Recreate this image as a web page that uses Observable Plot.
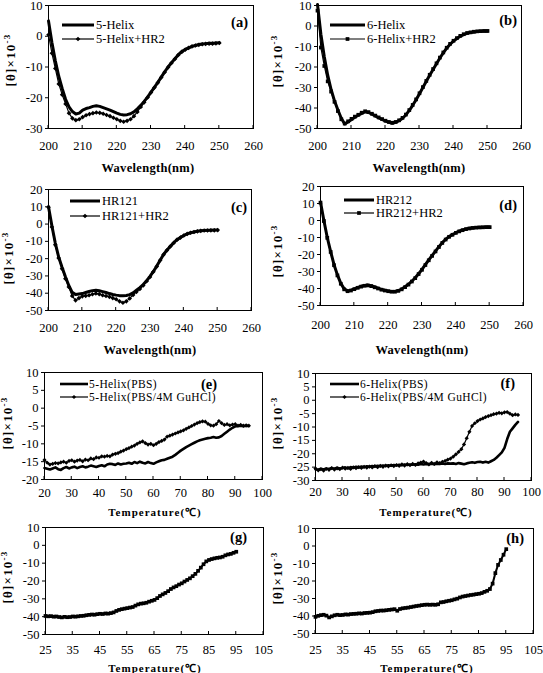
<!DOCTYPE html>
<html><head><meta charset="utf-8">
<script src="https://cdn.jsdelivr.net/npm/d3@7"></script>
<script src="https://cdn.jsdelivr.net/npm/@observablehq/plot@0.6"></script>
<style>
body{margin:0;background:#fff;}
#fig{position:relative;width:543px;height:673px;overflow:hidden;background:#fff;}
#fig svg{position:absolute !important;left:0;top:0;background:transparent !important;}
#fig svg text{font-family:"Liberation Serif","Times New Roman",Times,serif;}
</style></head><body><div id="fig"></div>
<script>
// ---------- data ----------
const wavelength = d3.range(200, 251);
const tempEF = d3.range(20, 96);
const tempGH = d3.range(25, 96);

const wlTicks = [200, 210, 220, 230, 240, 250, 260];
const tEFTicks = [20, 30, 40, 50, 60, 70, 80, 90, 100];
const tGHTicks = [25, 35, 45, 55, 65, 75, 85, 95, 105];

const namesA = ["5-Helix", "5-Helix+HR2"];
const namesB = ["6-Helix", "6-Helix+HR2"];
const namesC = ["HR121", "HR121+HR2"];
const namesD = ["HR212", "HR212+HR2"];
const namesE = ["5-Helix(PBS)", "5-Helix(PBS/4M GuHCl)"];
const namesF = ["6-Helix(PBS)", "6-Helix(PBS/4M GuHCl)"];
const panelLabels = ["(a)", "(b)", "(c)", "(d)", "(e)", "(f)", "(g)", "(h)"];
const xTitleWl = "Wavelength(nm)";
const xTitleT = "Temperature(\u2103)";

const helix5 = [5,-2,-8,-13,-17,-20.5,-23,-24.5,-25.3,-25,-24,-23.5,-23.2,-22.8,-22.6,-22.8,-23.2,-23.6,-24,-24.5,-25,-25.4,-25.6,-25.5,-25.2,-24.6,-23.6,-22.5,-21.2,-19.8,-18.2,-16.6,-15,-13.3,-11.6,-10,-8.6,-7.3,-6,-5,-4.3,-3.8,-3.3,-3,-2.7,-2.5,-2.4,-2.3,-2.3,-2.2,-2.1];
const helix5HR2 = [0.5,-5.5,-10.5,-15.5,-19,-22,-25,-26.7,-27.3,-27,-26.3,-25.7,-25.3,-25,-24.8,-24.9,-25.2,-25.6,-26,-26.5,-27,-27.5,-27.8,-27.5,-27,-26,-24.6,-23,-21.5,-19.9,-18.3,-16.7,-15.1,-13.4,-11.7,-10.1,-8.7,-7.4,-6.1,-5.1,-4.4,-3.8,-3.3,-3,-2.8,-2.6,-2.5,-2.4,-2.4,-2.3,-2.2];

const helix6 = [10.5,-4,-15,-24,-31,-36.5,-41,-45,-47.8,-46.8,-45.6,-44.5,-43.5,-42.6,-41.9,-42.2,-43,-43.9,-44.8,-45.6,-46.4,-47,-47.4,-47,-46.2,-45,-43.4,-41.2,-38.7,-36,-33,-30,-27,-24,-21.2,-18.4,-15.6,-13.1,-10.8,-8.9,-7.4,-6.1,-5,-4.2,-3.6,-3.2,-2.9,-2.7,-2.6,-2.5,-2.5];
const helix6HR2 = [7.5,-10.5,-19.5,-27,-32,-37,-41.5,-45.5,-47.6,-46.5,-45.3,-44.2,-43.3,-42.3,-41.6,-42,-42.8,-43.7,-44.6,-45.4,-46.2,-46.8,-47.2,-46.8,-46,-44.8,-43.2,-41,-38.5,-35.8,-32.8,-29.8,-26.8,-23.8,-21,-18.2,-15.4,-12.9,-10.6,-8.7,-7.2,-5.9,-4.8,-4,-3.4,-3.1,-2.8,-2.6,-2.5,-2.4,-2.4];

const hr121 = [10,-1,-11,-19,-25,-30.5,-35.5,-39.5,-40.8,-40.5,-40.2,-39.6,-39,-38.5,-38.3,-38.6,-39.1,-39.6,-40.2,-40.7,-41.1,-41.4,-41.5,-41.3,-40.8,-39.8,-38.3,-36.8,-35,-32.8,-30.3,-27.4,-24.3,-20.9,-17.6,-15.1,-12.9,-10.8,-9,-7.7,-6.6,-5.7,-5,-4.6,-4.2,-3.9,-3.7,-3.6,-3.6,-3.5,-3.5];
const hr121HR2 = [9.8,-1.7,-12,-19.7,-25.8,-31.6,-36.4,-41.6,-44.1,-42.8,-41.8,-41.5,-41.2,-40.6,-40.1,-40.5,-41.2,-41.6,-42.1,-42.8,-43.5,-44.7,-45.5,-44.7,-43,-41,-39.2,-37.5,-35.5,-33.1,-30.6,-27.6,-24.5,-21,-17.7,-15.2,-13,-10.9,-9,-7.8,-6.6,-5.7,-5,-4.6,-4.2,-3.9,-3.7,-3.7,-3.6,-3.6,-3.5];

const hr212 = [10.8,0,-10,-18.3,-26,-32,-37,-40.2,-41.4,-41,-40.2,-39.4,-38.7,-38.2,-38,-38.4,-39.1,-39.8,-40.5,-41,-41.4,-41.7,-41.7,-41.2,-40.3,-39,-37.5,-35.7,-33.7,-31.3,-28.8,-26,-23.2,-20.6,-18,-15.4,-13,-11,-9.5,-8.3,-7.2,-6.3,-5.6,-5,-4.6,-4.3,-4.1,-4,-3.9,-3.8,-3.8];
const hr212HR2 = [10.5,-0.3,-10.2,-18.5,-26.3,-32.3,-37.2,-40.5,-41.6,-41.2,-40.4,-39.6,-38.9,-38.4,-38.2,-38.6,-39.3,-40,-40.7,-41.2,-41.6,-41.9,-41.9,-41.4,-40.5,-39.2,-37.7,-35.9,-33.9,-31.5,-29,-26.2,-23.4,-20.8,-18.2,-15.6,-13.2,-11.2,-9.6,-8.4,-7.3,-6.4,-5.7,-5.1,-4.7,-4.4,-4.2,-4.1,-4,-3.9,-3.9];

const helix5PBS = [-16.8,-17.0,-17.2,-16.9,-16.6,-17.1,-17.3,-16.8,-16.5,-16.9,-16.6,-16.4,-16.8,-16.5,-16.3,-16.6,-16.4,-16.1,-16.3,-16.5,-16.2,-16.0,-16.3,-15.8,-15.6,-15.7,-15.9,-15.5,-15.8,-15.6,-15.5,-15.3,-15.6,-15.1,-15.4,-15.0,-15.3,-15.5,-15.1,-15.4,-15.6,-15.2,-14.9,-14.6,-14.5,-14.2,-13.9,-13.6,-13.1,-12.5,-11.9,-11.4,-10.9,-10.5,-10.1,-9.7,-9.3,-9.0,-8.8,-8.6,-8.4,-8.3,-8.1,-8.3,-8.2,-7.8,-7.2,-6.6,-6.0,-5.5,-5.1,-5.0,-4.9,-5.1,-4.9,-5.0];
const helix5Gu = [-14.5,-15.3,-15.8,-15.6,-15.4,-15.5,-15.2,-15.0,-15.3,-14.8,-14.6,-15.0,-14.7,-14.5,-14.9,-14.4,-14.6,-14.1,-14.3,-13.8,-13.9,-13.5,-13.6,-13.4,-13.5,-13.0,-12.8,-12.6,-12.2,-11.9,-11.5,-11.2,-10.8,-10.5,-10.0,-9.6,-9.3,-9.8,-10.2,-10.0,-10.4,-10.0,-9.5,-9.2,-8.8,-8.0,-7.7,-7.4,-7.1,-6.8,-6.5,-6.2,-5.8,-5.4,-5.0,-4.6,-4.2,-3.9,-3.7,-3.8,-4.4,-4.8,-4.9,-4.5,-3.6,-4.2,-4.7,-4.5,-4.8,-4.6,-4.5,-4.9,-4.7,-4.9,-4.8,-4.9];

const helix6PBS = [-25.8,-26.0,-25.6,-25.9,-25.5,-25.7,-25.3,-25.6,-25.2,-25.5,-25.3,-25.1,-25.4,-25.0,-25.2,-24.9,-25.1,-24.8,-25.0,-24.7,-24.9,-24.6,-24.8,-24.5,-24.7,-24.4,-24.6,-24.3,-24.5,-24.2,-24.4,-24.1,-24.3,-24.0,-24.2,-24.0,-24.1,-23.9,-24.1,-23.8,-24.0,-23.8,-23.9,-23.7,-23.9,-23.7,-23.8,-23.6,-23.8,-23.6,-23.7,-23.6,-23.8,-23.5,-23.7,-23.9,-23.6,-23.4,-23.2,-23.4,-23.1,-23.0,-23.3,-23.0,-23.3,-22.8,-22.3,-21.5,-20.5,-19.5,-17.8,-14.5,-11.8,-10.5,-9.2,-8.1];
const helix6Gu = [-25.5,-26.2,-25.8,-26.3,-25.7,-26.0,-25.4,-25.9,-25.5,-25.8,-25.2,-25.6,-25.3,-25.7,-25.1,-25.4,-25.0,-25.3,-24.9,-25.2,-24.8,-25.1,-24.6,-25.0,-24.5,-24.9,-24.4,-24.7,-24.3,-24.6,-24.2,-24.5,-24.0,-24.4,-23.9,-24.3,-23.8,-24.2,-23.6,-23.3,-22.9,-23.5,-24.0,-23.4,-23.8,-23.2,-23.5,-23.0,-22.7,-22.2,-21.8,-21.1,-20.2,-19.3,-18.3,-16.5,-14.2,-11.8,-9.6,-8.6,-7.8,-7.2,-6.8,-6.3,-5.9,-5.6,-5.2,-5.0,-4.7,-4.9,-4.5,-4.4,-5.0,-5.6,-5.3,-5.5];

const panelG = [-39.6,-39.8,-39.7,-40.0,-39.9,-40.2,-40.4,-40.1,-40.3,-40.2,-39.9,-40.0,-39.8,-39.6,-39.5,-39.2,-39.0,-38.8,-38.9,-38.6,-38.4,-38.5,-38.2,-38.3,-38.0,-37.6,-36.8,-36.2,-35.8,-35.5,-35.2,-34.9,-34.6,-33.8,-33.1,-32.7,-32.5,-32.2,-31.6,-31.1,-30.6,-29.6,-28.4,-27.5,-26.7,-25.7,-24.5,-23.6,-22.9,-22.0,-21.3,-20.3,-19.4,-18.5,-17.3,-16.0,-14.3,-12.5,-10.6,-9.0,-8.2,-7.7,-7.3,-7.0,-6.8,-6.4,-5.6,-5.1,-4.8,-4.2,-3.6];
const panelH = [-40.5,-39.9,-39.5,-39.3,-39.8,-40.8,-40.2,-39.6,-39.3,-39.5,-39.4,-39.1,-39.2,-38.9,-38.8,-38.7,-38.5,-38.6,-38.3,-38.2,-38.1,-37.8,-37.3,-37.1,-36.9,-36.9,-36.7,-36.5,-36.3,-36.1,-37.0,-36.0,-35.6,-35.4,-35.2,-34.9,-34.6,-34.3,-34.1,-33.8,-33.6,-33.5,-33.6,-33.5,-33.6,-33.3,-32.2,-32.0,-31.6,-31.3,-31.0,-30.5,-30.1,-29.4,-28.9,-28.6,-28.3,-28.0,-27.8,-27.5,-27.3,-26.9,-26.2,-25.6,-24.6,-21.5,-15.5,-10.8,-8.0,-5.0,-1.8];

// ---------- drawing ----------
const W = 543, H = 673;
const serif = '"Liberation Serif","Times New Roman",Times,serif';
const DIAMOND = d3.symbolDiamond2 || d3.symbolDiamond;
const SQUARE = d3.symbolSquare;
const fig = document.getElementById("fig");

function drawPanel(p, idx) {
  const marks = [];
  p.series.forEach(s => {
    const rows = s.x.map((x, i) => ({x, y: s.y[i]}));
    marks.push(Plot.line(rows, {x: "x", y: "y", stroke: "#000", strokeWidth: s.width}));
    if (s.symbol) marks.push(Plot.dot(rows, {x: "x", y: "y", symbol: s.symbol, r: s.r, fill: "#000", stroke: "none"}));
  });
  marks.push(Plot.frame({stroke: "#000", strokeWidth: 1}));
  const [L, R, T, B] = p.frame;
  const chart = Plot.plot({
    width: W, height: H,
    marginLeft: L, marginRight: W - R, marginTop: T, marginBottom: H - B,
    style: {fontFamily: serif, fontSize: "12.5px", color: "#000"},
    x: {domain: p.xDomain, ticks: p.xTicks, tickSize: 0, tickPadding: p.xPad, tickFormat: d => String(d), label: null},
    y: {domain: p.yDomain, ticks: p.yTicks, tickSize: 3, tickPadding: 3, tickFormat: d => String(d), label: null},
    marks
  });
  fig.appendChild(chart);
  const svg = d3.select(chart);
  let fx;
  try { const sx = chart.scale("x"); fx = v => sx.apply(v); fx(p.xDomain[0]); }
  catch (e) { fx = d3.scaleLinear(p.xDomain, [L, R]); }
  // inward x ticks
  const g = svg.append("g").attr("stroke", "#000").attr("stroke-width", 1);
  p.xTicks.forEach(t => g.append("line").attr("x1", fx(t)).attr("x2", fx(t)).attr("y1", B).attr("y2", B - 3));
  // x title
  svg.append("text").attr("x", p.xTitle[1]).attr("y", p.xTitle[2]).attr("dy", "0.35em")
    .attr("text-anchor", "middle").attr("font-weight", "bold")
    .attr("font-size", p.xTitle[3]).attr("letter-spacing", p.xTitle[4]).text(p.xTitle[0]);
  // y title
  const yt = svg.append("text").attr("transform", `translate(${p.yTitle[0]},${p.yTitle[1]}) rotate(-90)`)
    .attr("dy", "0.35em").attr("text-anchor", "middle")
    .attr("font-weight", "bold").attr("font-size", 13).attr("letter-spacing", 1.2);
  yt.append("tspan").text("[\u03b8]\u00d710");
  yt.append("tspan").attr("dy", "-0.5em").attr("font-size", 9).text("-3");
  // panel label
  svg.append("text").attr("x", p.label[0]).attr("y", p.label[1]).attr("dy", "0.35em")
    .attr("text-anchor", "end").attr("font-weight", "bold")
    .attr("font-size", 14.5).text(panelLabels[idx]);
  // legend
  if (p.legend) {
    const lg = p.legend;
    lg.ys.forEach((y, i) => {
      const s = p.series[i];
      svg.append("line").attr("x1", lg.x1).attr("x2", lg.x2).attr("y1", y).attr("y2", y)
        .attr("stroke", "#000").attr("stroke-width", s.width);
      if (s.symbol) svg.append("path").attr("transform", `translate(${(lg.x1 + lg.x2) / 2},${y})`)
        .attr("d", d3.symbol(s.symbol, Math.PI * s.r * s.r)()).attr("fill", "#000");
      svg.append("text").attr("x", lg.tx).attr("y", y).attr("dy", "0.35em").attr("text-anchor", "start")
        .attr("font-size", lg.fs).attr("letter-spacing", lg.ls)
        .text(lg.names[i]);
    });
  }
}

const panels = [
  {frame: [48, 253, 5, 128], xDomain: [200, 260], xTicks: wlTicks, yDomain: [-30, 10], yTicks: [-30, -20, -10, 0, 10], xPad: 13,
   series: [{x: wavelength, y: helix5, width: 3}, {x: wavelength, y: helix5HR2, width: 1.2, symbol: DIAMOND, r: 2.1}],
   legend: {x1: 62, x2: 94, tx: 96, ys: [25, 39], names: namesA, fs: 12.5, ls: 0},
   label: [248, 22], xTitle: [xTitleWl, 148, 168, 12.5, 0.3], yTitle: [10, 60]},
  {frame: [317, 521, 5, 128], xDomain: [200, 260], xTicks: wlTicks, yDomain: [-50, 10], yTicks: [-50, -40, -30, -20, -10, 0, 10], xPad: 13,
   series: [{x: wavelength, y: helix6, width: 3}, {x: wavelength, y: helix6HR2, width: 1.2, symbol: SQUARE, r: 2.1}],
   legend: {x1: 330, x2: 365, tx: 367, ys: [25, 39], names: namesB, fs: 12.5, ls: 0},
   label: [517, 20], xTitle: [xTitleWl, 419, 168, 12.5, 0.3], yTitle: [277, 61]},
  {frame: [48, 251, 189, 310], xDomain: [200, 260], xTicks: wlTicks, yDomain: [-50, 20], yTicks: [-50, -40, -30, -20, -10, 0, 10, 20], xPad: 13,
   series: [{x: wavelength, y: hr121, width: 3}, {x: wavelength, y: hr121HR2, width: 1.2, symbol: DIAMOND, r: 2.1}],
   legend: {x1: 70, x2: 100, tx: 102, ys: [201, 216], names: namesC, fs: 12.5, ls: 0},
   label: [247, 207], xTitle: [xTitleWl, 150, 350, 12.5, 0.3], yTitle: [8, 258]},
  {frame: [320, 523, 186, 305], xDomain: [200, 260], xTicks: wlTicks, yDomain: [-50, 20], yTicks: [-50, -40, -30, -20, -10, 0, 10, 20], xPad: 15,
   series: [{x: wavelength, y: hr212, width: 3}, {x: wavelength, y: hr212HR2, width: 1.2, symbol: SQUARE, r: 2.1}],
   legend: {x1: 344, x2: 374, tx: 376, ys: [200, 213], names: namesD, fs: 12.5, ls: 0},
   label: [517, 205], xTitle: [xTitleWl, 422, 350, 12.5, 0.3], yTitle: [277, 251]},
  {frame: [44, 262, 372, 479], xDomain: [20, 100], xTicks: tEFTicks, yDomain: [-20, 10], yTicks: [-20, -15, -10, -5, 0, 5, 10], xPad: 9,
   series: [{x: tempEF, y: helix5PBS, width: 2.6}, {x: tempEF, y: helix5Gu, width: 1.2, symbol: DIAMOND, r: 1.9}],
   legend: {x1: 60, x2: 88, tx: 89, ys: [384, 397], names: namesE, fs: 11.5, ls: 0.4},
   label: [217, 384], xTitle: [xTitleT, 155, 512, 11, 1], yTitle: [7, 423]},
  {frame: [315, 531, 373, 480], xDomain: [20, 100], xTicks: tEFTicks, yDomain: [-30, 10], yTicks: [-30, -25, -20, -15, -10, -5, 0, 5, 10], xPad: 7,
   series: [{x: tempEF, y: helix6PBS, width: 2.6}, {x: tempEF, y: helix6Gu, width: 1.2, symbol: DIAMOND, r: 1.9}],
   legend: {x1: 330, x2: 359, tx: 360, ys: [384, 397], names: namesF, fs: 11.5, ls: 0.4},
   label: [515, 383], xTitle: [xTitleT, 426, 512, 11, 1], yTitle: [277, 423]},
  {frame: [45, 263, 527, 634], xDomain: [25, 105], xTicks: tGHTicks, yDomain: [-50, 10], yTicks: [-50, -40, -30, -20, -10, 0, 10], xPad: 11,
   series: [{x: tempGH, y: panelG, width: 2, symbol: SQUARE, r: 2.1}],
   label: [247, 537], xTitle: [xTitleT, 155, 668, 11, 1], yTitle: [7, 577]},
  {frame: [315, 533, 528, 633], xDomain: [25, 105], xTicks: tGHTicks, yDomain: [-50, 10], yTicks: [-50, -40, -30, -20, -10, 0, 10], xPad: 12,
   series: [{x: tempGH, y: panelH, width: 2, symbol: SQUARE, r: 2.1}],
   label: [524, 538], xTitle: [xTitleT, 427, 668, 11, 1], yTitle: [277, 578]}
];

panels.forEach(drawPanel);
</script></body></html>
